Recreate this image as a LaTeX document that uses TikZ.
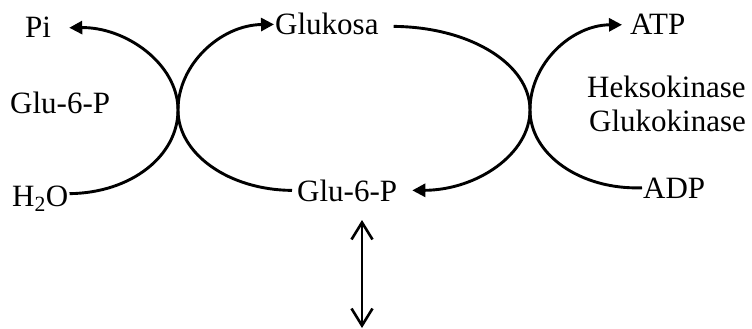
\documentclass[tikz,border=0pt]{standalone}
\usepackage{fontspec}
\setmainfont{Liberation Serif}
\usepackage{tikz}
\usetikzlibrary{arrows.meta, positioning, calc}
\tikzstyle{lbl} = [inner sep=0pt, anchor=base west, font=\fontsize{31}{37}\selectfont]
\tikzstyle{arrow} = [line width=2.9pt, -{Triangle[length=13pt, width=13pt]}]
\tikzstyle{dblarrow} = [line width=2.6pt, {Straight Barb[length=17pt, width=21pt]}-{Straight Barb[length=17pt, width=21pt]}]

\begin{document}
\begin{tikzpicture}[x=1pt, y=-1pt]
            \useasboundingbox (0,0) rectangle (752,329);

            % Left pair
            \node (pi) [lbl] at (25,38) {Pi};
            \node (glu6pl) [lbl] at (10,113) {Glu-6-P};
            \node (h2o) [lbl] at (12,206) {H\textsubscript{2}O};

            % Middle
            \node (glukosa) [lbl] at (275,35) {Glukosa};
            \node (glu6pb) [lbl] at (297,201) {Glu-6-P};

            % Right pair
            \node (atp) [lbl] at (630,35) {ATP};
            \node (heks) [lbl] at (587,97) {Heksokinase};
            \node (gluk) [lbl] at (589,131) {Glukokinase};
            \node (adp) [lbl] at (643,198) {ADP};

            % Touch points of the arcs
            \coordinate (kiss1) at (178,110);
            \coordinate (kiss2) at (530,110);
            \coordinate (vtop) at (362,220);
            \coordinate (vbot) at (362,328);

            % Arcs
            \draw [arrow] ($(h2o.east)+(1,-5)$) .. controls (131,193) and (178,156) .. (kiss1)
                .. controls (178,64) and (126,27) .. ($(pi.east)+(18,0)$);
            \draw [arrow] ($(glu6pb.west)+(-5,0)$) .. controls (229,190) and (178,154) .. (kiss1)
                .. controls (178,64) and (221,25) .. ($(glukosa.west)+(-1,0)$);
            \draw [arrow] ($(glukosa.east)+(15,2)$) .. controls (470,27) and (530,64) .. (kiss2)
                .. controls (530,154) and (477,190) .. ($(glu6pb.east)+(15,0)$);
            \draw [arrow] ($(adp.west)+(-1,0)$) .. controls (580,190) and (530,154) .. (kiss2)
                .. controls (530,63) and (572,25) .. ($(atp.west)+(-8,0)$);

            % Exchange
            \draw [dblarrow] (vtop) -- (vbot);
        \end{tikzpicture}
\end{document}
